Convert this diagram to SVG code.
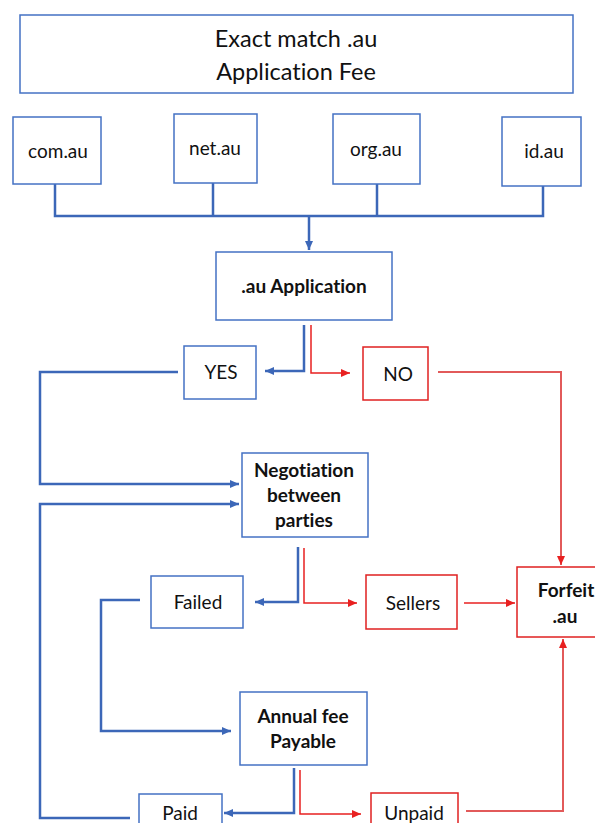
<svg xmlns="http://www.w3.org/2000/svg" width="595" height="823" viewBox="0 0 595 823">
<style>
.bbox{fill:#fff;stroke:#4472c4;stroke-width:1.5}
.rbox{fill:#fff;stroke:#e02020;stroke-width:1.5}
.t{font-family:Lato,"Open Sans",sans-serif;font-size:19px;fill:#111;text-anchor:middle;font-variant-ligatures:none}
.ti{font-size:23.5px}
.b{font-weight:bold}
.bl{fill:none;stroke:#3c67b8;stroke-width:2.5}
.rl{fill:none;stroke:#e82020;stroke-width:1.5}
.rl2{fill:none;stroke:#e25a5a;stroke-width:2}
</style>
<defs>
<marker id="ab" markerUnits="userSpaceOnUse" markerWidth="10" markerHeight="10" refX="9" refY="5" orient="auto"><path d="M0,1 L9,5 L0,9 z" fill="#3c67b8"/></marker>
<marker id="ar" markerUnits="userSpaceOnUse" markerWidth="10" markerHeight="10" refX="9" refY="5" orient="auto"><path d="M0,1 L9,5 L0,9 z" fill="#e82020"/></marker>
</defs>
<rect width="595" height="823" fill="#fff"/>
<g id="connectors">
<path class="bl" d="M55,184 V216 H543 V186 M213,183 V216 M377,184 V216"/>
<path class="bl" d="M309,216 V250" marker-end="url(#ab)"/>
<path class="bl" d="M304,325 V371 H265" marker-end="url(#ab)"/>
<path class="rl" d="M311,325 V373 H350" marker-end="url(#ar)"/>
<path class="bl" d="M178,372 H40 V484 H239" marker-end="url(#ab)"/>
<path class="bl" d="M130,818 H40 V504 H239" marker-end="url(#ab)"/>
<path class="rl2" d="M438,372 H561 V565" marker-end="url(#ar)"/>
<path class="bl" d="M298,547 V602 H255" marker-end="url(#ab)"/>
<path class="rl" d="M304,548 V603 H357" marker-end="url(#ar)"/>
<path class="rl" d="M464,603 H515" marker-end="url(#ar)"/>
<path class="bl" d="M140,600 H101 V731 H231" marker-end="url(#ab)"/>
<path class="bl" d="M294,768 V813 H224" marker-end="url(#ab)"/>
<path class="rl" d="M300,770 V814 H361" marker-end="url(#ar)"/>
<path class="rl2" d="M466,811 H563 V639" marker-end="url(#ar)"/>
</g>
<g id="title"><rect class="bbox" x="20" y="15" width="553" height="78"/>
<text class="t ti" x="296" y="47">Exact match .au</text>
<text class="t ti" x="296" y="80">Application Fee</text></g>
<g id="com"><rect class="bbox" x="13" y="117" width="88" height="67"/><text class="t" x="58" y="158">com.au</text></g>
<g id="net"><rect class="bbox" x="174" y="114" width="83" height="69"/><text class="t" x="215" y="155">net.au</text></g>
<g id="org"><rect class="bbox" x="333" y="114" width="87" height="70"/><text class="t" x="376" y="156">org.au</text></g>
<g id="id"><rect class="bbox" x="502" y="117" width="79" height="69"/><text class="t" x="544" y="158">id.au</text></g>
<g id="app"><rect class="bbox" x="216" y="252" width="176" height="68"/><text class="t b" x="304" y="293">.au Application</text></g>
<g id="yes"><rect class="bbox" x="184" y="346" width="72" height="53"/><text class="t" x="221" y="379">YES</text></g>
<g id="no"><rect class="rbox" x="363" y="347" width="65" height="53"/><text class="t" x="398" y="381">NO</text></g>
<g id="negotiation"><rect class="bbox" x="242" y="453" width="126" height="84"/>
<text class="t b" x="304" y="477">Negotiation</text><text class="t b" x="304" y="502">between</text><text class="t b" x="304" y="527">parties</text></g>
<g id="failed"><rect class="bbox" x="151" y="576" width="92" height="52"/><text class="t" x="198" y="609">Failed</text></g>
<g id="sellers"><rect class="rbox" x="366" y="575" width="91" height="54"/><text class="t" x="413" y="610">Sellers</text></g>
<g id="forfeit"><rect class="rbox" x="517" y="567" width="82" height="70"/><text class="t b" x="566" y="597">Forfeit</text><text class="t b" x="565" y="623">.au</text></g>
<g id="annual"><rect class="bbox" x="240" y="692" width="127" height="73"/><text class="t b" x="303" y="723">Annual fee</text><text class="t b" x="303" y="748">Payable</text></g>
<g id="paid"><rect class="bbox" x="139" y="794" width="83" height="40"/><text class="t" x="180" y="820">Paid</text></g>
<g id="unpaid"><rect class="rbox" x="371" y="793" width="87" height="40"/><text class="t" x="414" y="820">Unpaid</text></g>
</svg>
